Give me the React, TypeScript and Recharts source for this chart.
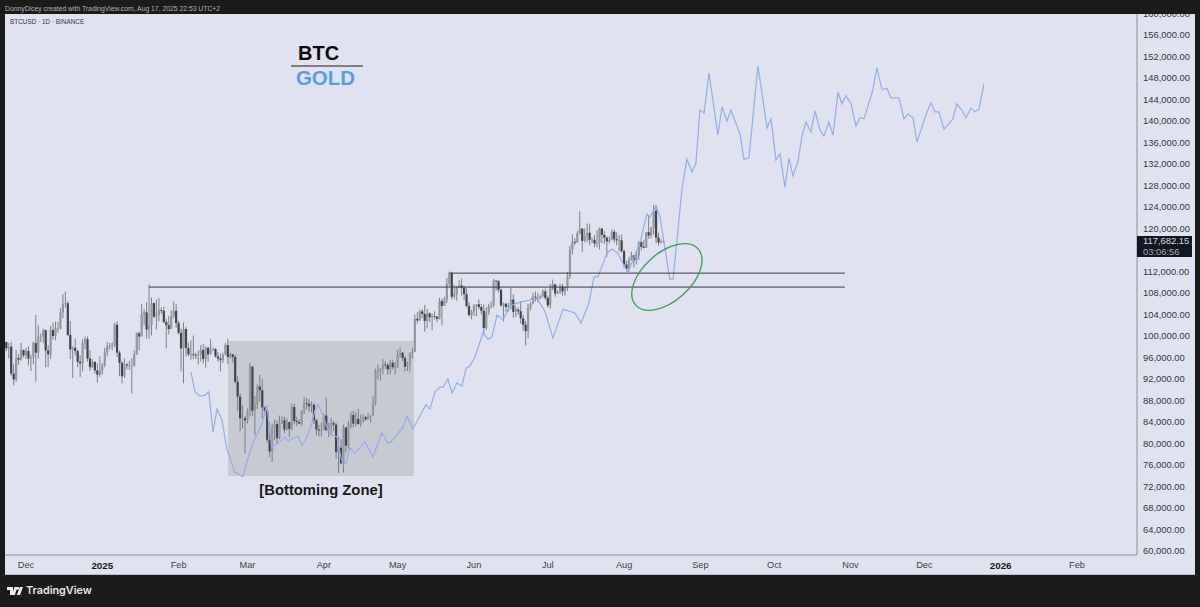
import { Bar, ComposedChart, Line, ReferenceArea, ReferenceDot, ReferenceLine, XAxis, YAxis } from 'recharts';

// daily BTCUSD candles, first candle is Nov 23 2024 (day 0)
const firstOpen = 98900;

const candleCloses = [
  97700, 98000, 93000, 91900, 95900, 95600, 97400, 96400,
  97200, 95800, 96000, 98700, 96900, 99900, 99900, 101100, 97300, 96600, 101100, 100000, 101400, 101400, 104400, 106000, 106100, 100200, 97500, 97800, 97200, 95200, 94900, 98700, 99400, 95800, 94200, 95200, 93600, 92800, 93600,
  94600, 97000, 98100, 98200, 98300, 102100, 96900, 95000, 92500, 94700, 94500, 94500, 94500, 96500, 100500, 99900, 104000, 104400, 101200, 102000, 106100, 103600, 103900, 104800, 104700, 102600, 102000, 101300, 103700, 104700, 102400,
  100600, 97700, 101300, 97800, 96600, 96600, 96500, 96400, 96500, 97400, 95700, 97800, 96600, 97500, 97600, 96200, 95800, 95500, 96600, 98300, 96100, 96600, 96100, 91500, 88700, 84700, 84700, 84300,
  86000, 94300, 86100, 87200, 90600, 89900, 86700, 86100, 80700, 78500, 82900, 83600, 81000, 83900, 84300, 82600, 84000, 82700, 86800, 84200, 84000, 83700, 86000, 87500, 87400, 86900, 87200, 84300, 82600, 82400, 82500,
  85200, 82500, 83100, 83800, 83500, 78400, 79200, 76300, 83000, 79600, 83400, 85300, 83700, 84600, 83600, 84000, 84900, 84500, 85100, 85200, 87500, 93400, 93700, 93900, 94700, 94600, 93800, 95000, 94200, 94200,
  96500, 96900, 95900, 94300, 94800, 96800, 97000, 103200, 102900, 104600, 104100, 102800, 104200, 103500, 103700, 103600, 103200, 106500, 105600, 106800, 109700, 111700, 107300, 107800, 109000, 109400, 109000, 107800, 105600, 103900, 104600,
  105700, 105900, 105400, 104700, 101500, 104400, 105600, 105700, 110300, 110200, 108600, 105700, 106000, 105400, 105600, 106800, 104500, 104900, 104600, 103300, 102100, 100900, 105300, 106000, 107300, 107000, 107000, 107400, 108300, 107100,
  105700, 108800, 109600, 107900, 108200, 109200, 108300, 109000, 111200, 116000, 117500, 117400, 119100, 120000, 117700, 118600, 119200, 117900, 117900, 117200, 117300, 120000, 118800, 118300, 117600, 117900, 119400, 118000, 117800, 117800, 115800,
  113300, 112500, 114200, 115000, 114100, 115000, 117500, 116600, 116400, 119300, 118700, 120100, 123300, 118300, 117400, 117500, 117700,
];

const candleHighs = [
  98800, 98700, 98900, 94700, 97400, 96600, 98700, 97500,
  97800, 98100, 96500, 99000, 103900, 102000, 100500, 101400, 101200, 98200, 101900, 102500, 102700, 102600, 105200, 107800, 108300, 106500, 102800, 98100, 99500, 97400, 96400, 99400, 99900, 99900, 97400, 95700, 95200, 94900, 96200,
  95000, 97800, 98900, 98700, 98800, 102500, 102700, 97300, 95300, 95800, 95000, 95400, 95900, 97300, 100700, 100800, 106000, 105000, 106300, 109600, 107200, 106300, 106800, 107100, 105300, 105400, 103200, 103700, 104800, 106400, 106000,
  102800, 101400, 102500, 101700, 98800, 99200, 100100, 96900, 97300, 98300, 98500, 98100, 98000, 99400, 97900, 97700, 97000, 96700, 96900, 98700, 99500, 96900, 96500, 96500, 92500, 89300, 87100, 85100,
  86500, 95000, 94400, 88900, 91000, 92800, 92000, 86900, 86400, 84000, 83600, 84400, 84300, 85200, 85000, 85000, 84700, 84000, 87400, 87400, 85000, 84500, 86200, 88700, 88500, 88300, 87800, 87500, 84600, 83500, 83900,
  85500, 88500, 83900, 84700, 84200, 83800, 81200, 80800, 83500, 82700, 84200, 85900, 86100, 85800, 86500, 85400, 85500, 85100, 85700, 85300, 88800, 93900, 94700, 94000, 95700, 95300, 95000, 95600, 95500, 95200,
  97400, 97900, 97000, 96300, 95200, 97000, 97700, 104000, 104400, 104900, 105000, 105800, 105000, 104400, 104200, 104600, 103700, 107100, 107000, 107300, 110800, 112000, 111900, 109500, 109300, 110400, 110700, 109300, 108900, 106300, 104900,
  105900, 105900, 106800, 106000, 105900, 105300, 106000, 106400, 110600, 110400, 110400, 108800, 106200, 106200, 106100, 108900, 107800, 105500, 105300, 106500, 103900, 102800, 106000, 106300, 108000, 108300, 108000, 107600, 108700, 108800,
  107500, 109700, 110500, 109700, 108500, 109700, 109700, 109200, 111900, 116800, 118900, 118200, 119500, 123200, 120000, 120000, 120900, 120900, 118300, 118800, 119700, 120200, 120000, 119500, 118500, 118500, 119800, 119800, 119300, 118800, 118900,
  116100, 114000, 114700, 115700, 115100, 115700, 117600, 117600, 117900, 119300, 122300, 120300, 124400, 124400, 119200, 118000, 118500,
];

const candleLows = [
  97200, 95800, 92600, 90800, 91500, 94600, 95400, 96000,
  95700, 94500, 93500, 94700, 91500, 95800, 98900, 98700, 94200, 94200, 95700, 99300, 99200, 100600, 101200, 103300, 105300, 100000, 95700, 92200, 96400, 94200, 92400, 93400, 97600, 95200, 93500, 94000, 93000, 91300, 92400,
  92800, 94200, 96200, 97500, 97300, 97900, 96100, 92500, 91200, 92200, 93800, 93700, 89300, 94300, 96500, 97300, 100000, 102000, 99500, 99500, 100100, 103300, 101200, 102700, 104100, 102400, 97700, 100300, 101300, 103300, 101500,
  100300, 93400, 91200, 96200, 96200, 95600, 95700, 95700, 94700, 95300, 94900, 94100, 95200, 96500, 97200, 96000, 95200, 93400, 95000, 96400, 94800, 95800, 95100, 91200, 86000, 82300, 82800, 78200,
  83700, 85000, 85100, 81500, 86400, 87800, 84700, 85200, 80100, 77400, 76600, 80600, 79900, 80800, 83600, 81900, 82400, 81100, 82400, 83600, 83200, 83600, 83300, 85500, 86300, 85900, 85800, 83600, 81600, 81300, 81300,
  82400, 82300, 81200, 81600, 82300, 77200, 74500, 76200, 74600, 78300, 79000, 82800, 83000, 83200, 83600, 83100, 83900, 84200, 84500, 83900, 85100, 87100, 91900, 91700, 92900, 93900, 92800, 92900, 93800, 92900,
  94100, 96000, 95300, 93400, 93500, 93400, 95800, 97300, 102300, 102800, 103300, 100800, 101400, 102600, 101100, 103100, 102600, 103100, 102000, 105600, 106100, 109300, 106800, 106900, 106600, 108900, 107500, 106700, 105300, 103600, 103100,
  103700, 103700, 105000, 104000, 100400, 101100, 103900, 105100, 105300, 108400, 108100, 105400, 102700, 104500, 104500, 104900, 103400, 103500, 103900, 102300, 101000, 98200, 99600, 104700, 105900, 106400, 106200, 106900, 107200, 106700,
  105300, 105100, 108500, 107300, 107800, 107800, 107500, 107500, 108400, 110600, 115200, 116900, 117300, 118900, 115700, 117400, 117500, 116900, 117300, 116500, 116500, 116100, 117300, 117100, 114700, 117200, 117800, 117400, 116900, 115700, 115500,
  112700, 112000, 111900, 114000, 112700, 113300, 114200, 115900, 116300, 116500, 118100, 118200, 118900, 117300, 116800, 117200, 117300,
];

// gold overlay (day, price-scale value)
const goldDays = [
  75.0, 76.7, 78.7, 80.7, 82.3, 84.0, 85.6, 87.6, 89.7, 92.9, 96.2, 98.2, 100.2, 103.1, 104.3, 105.9, 107.1, 107.9, 109.2, 111.2, 113.2, 114.4, 118.5, 120.1, 122.2, 124.2, 125.4, 126.6, 128.7, 130.3,
  132.3, 134.4, 135.6, 136.8, 138.0, 139.6, 141.7, 145.7, 149.0, 152.6, 155.1, 156.3, 161.2, 162.8, 165.2, 170.5, 172.1, 174.2, 176.2, 177.4, 179.4, 181.1, 183.1, 185.1, 186.8, 188.4, 190.4, 193.7, 195.7, 197.3,
  199.4, 201.8, 204.6, 208.7, 212.8, 214.0, 216.0, 218.9, 222.1, 226.2, 231.0, 233.5, 236.7, 238.8, 240.4, 244.0, 246.1, 248.5, 251.4, 252.6, 254.6, 257.4, 260.3, 261.5, 264.0, 265.6, 267.6, 269.6, 270.9, 272.1,
  273.3, 274.5, 276.5, 278.6, 280.2, 281.8, 283.5, 285.5, 289.1, 290.8, 292.8, 294.4, 298.1, 299.7, 301.7, 305.4, 309.1, 310.7, 312.7, 314.3, 316.4, 318.0, 319.6, 321.6, 323.3, 324.9, 326.9, 328.6, 330.6, 332.2,
  334.2, 335.9, 337.9, 339.5, 341.1, 343.2, 345.2, 346.8, 348.5, 352.1, 353.7, 355.8, 357.8, 359.4, 362.7, 364.7, 366.3, 368.4, 370.0, 374.1, 375.7, 377.3, 378.9, 381.0, 384.6, 386.2, 388.3, 389.9, 391.9, 393.6, 395.2, 397.2,
];

const goldValues = [
  93300, 89600, 88800, 89000, 89600, 82100, 86400, 84400, 78800, 74700, 73800, 77300, 80100, 82900, 84400, 87200, 82000, 79300, 79700, 80300, 81200, 80500, 81400, 79700, 81200, 83800, 86200, 87300, 85300, 82900,
  81600, 81200, 78200, 76000, 76400, 79200, 78200, 80300, 77500, 82000, 80100, 80300, 83100, 85100, 82700, 87200, 86400, 89600, 90500, 90500, 92000, 89400, 91300, 90700, 94000, 94400, 96100, 100600, 99400, 99800,
  103900, 103000, 105600, 106300, 106700, 107300, 106700, 104500, 99600, 105000, 104300, 102400, 106100, 111000, 111000, 115400, 116200, 115400, 112700, 111900, 114100, 117300, 122700, 122100, 124200, 122100, 116400, 110600, 110600, 116000,
  121600, 127200, 132900, 130500, 132200, 142000, 141500, 148900, 137400, 142600, 140000, 142000, 137600, 132900, 133100, 150200, 138700, 140400, 132700, 133900, 127700, 133100, 129800, 132400, 137200, 139800, 138000, 141900, 138300, 137200,
  139800, 137400, 145400, 143200, 144700, 143200, 139100, 140600, 140400, 145800, 149900, 145800, 146100, 144300, 144300, 140400, 141300, 140600, 136100, 141700, 143400, 141700, 141700, 138500, 140400, 143200, 142000, 140600, 142400, 141700, 142200, 146900,
];

const xTickDays = [8, 39, 70, 98, 129, 159, 190, 220, 251, 282, 312, 343, 373, 404, 435];
const xTickLabels = ['Dec', '2025', 'Feb', 'Mar', 'Apr', 'May', 'Jun', 'Jul', 'Aug', 'Sep', 'Oct', 'Nov', 'Dec', '2026', 'Feb'];

const yTicks = [
  160000, 156000, 152000, 148000, 144000, 140000, 136000, 132000, 128000, 124000, 120000, 112000, 108000,
  104000, 100000, 96000, 92000, 88000, 84000, 80000, 76000, 72000, 68000, 64000, 60000,
];

const levelLow = { fromDay: 58, toDay: 340.7, price: 109100 };
const levelHigh = { fromDay: 180, toDay: 340.7, price: 111700 };
const bottomingZone = { fromDay: 90.1, toDay: 165.6, top: 99070, bottom: 73950 };

const candles = candleCloses.map((close, i) => ({
  day: i,
  open: i === 0 ? firstOpen : candleCloses[i - 1],
  close,
  high: candleHighs[i],
  low: candleLows[i],
  range: [candleLows[i], candleHighs[i]],
}));

const gold = goldDays.map((day, i) => ({ day, gold: goldValues[i] }));

const FONT = '"Liberation Sans", Arial, sans-serif';
const BG = '#e0e3ef';
const DARK = '#1b1b1b';

const Candle = (props: any) => {
  const { x, y, width, height, payload } = props;
  const { open, close, high, low } = payload;
  const h = Math.abs(height);
  const cx = x + width / 2;
  const yOf = (v: number) => y + ((high - v) / (high - low)) * h;
  const top = yOf(Math.max(open, close));
  const bottom = yOf(Math.min(open, close));
  const up = close >= open;
  return (
    <g>
      <line x1={cx} x2={cx} y1={y} y2={y + h} stroke="#72757e" strokeWidth={0.9} />
      <rect x={cx - 1.1} y={top} width={2.2} height={Math.max(bottom - top, 0.8)} fill={up ? '#95979f' : '#42444b'} />
    </g>
  );
};

const XTick = (props: any) => {
  const { x, y, payload } = props;
  const label = xTickLabels[xTickDays.indexOf(payload.value)];
  const isYear = /^\d+$/.test(label);
  return (
    <text x={x} y={y + 3} textAnchor="middle" dominantBaseline="middle" fontFamily={FONT} fontSize={isYear ? 9.8 : 9.2} fontWeight={isYear ? 700 : 400} fill={isYear ? '#15171c' : '#3c3f47'}>
      {label}
    </text>
  );
};

const tiltedEllipse = (props: any) => {
  const { cx, cy } = props;
  return <ellipse cx={cx} cy={cy} rx={42} ry={24} transform={`rotate(-42 ${cx} ${cy})`} fill="none" stroke="#3f9e55" strokeWidth={1.3} />;
};

export default function App() {
  return (
    <div style={{ position: 'absolute', left: 0, top: 0, width: 1200, height: 607, background: DARK, overflow: 'hidden', fontFamily: FONT }}>
      <div style={{ position: 'absolute', left: 5, top: 3, fontSize: 6.8, lineHeight: '11px', color: '#b4b4b4', whiteSpace: 'nowrap' }}>
        DonnyDicey created with TradingView.com, Aug 17, 2025 22:53 UTC+2
      </div>

      <div style={{ position: 'absolute', left: 5, top: 14, width: 1190, height: 561, background: BG, overflow: 'hidden' }}>
        <ComposedChart width={1190} height={561} data={candles} margin={{ top: 0, right: 0, bottom: 0, left: 0 }}>
          <XAxis
            dataKey="day"
            type="number"
            domain={[-0.53, 459.4]}
            allowDataOverflow
            ticks={xTickDays}
            interval={0}
            height={20}
            tickLine={false}
            stroke="#8b8e9a"
            tick={<XTick />}
          />
          <YAxis
            orientation="right"
            type="number"
            width={58}
            domain={[59256, 159907]}
            allowDataOverflow
            ticks={yTicks}
            interval={0}
            tickLine={false}
            tickSize={0}
            stroke="#8b8e9a"
            tickMargin={6}
            tick={{ fontFamily: FONT, fontSize: 9.4, fill: '#33363d' }}
            tickFormatter={(v: number) => v.toLocaleString('en-US', { minimumFractionDigits: 2, maximumFractionDigits: 2 })}
          />
          <ReferenceArea
            x1={bottomingZone.fromDay}
            x2={bottomingZone.toDay}
            y1={bottomingZone.bottom}
            y2={bottomingZone.top}
            fill="#c8cad3"
            fillOpacity={1}
            stroke="none"
            label={{ value: '[Bottoming Zone]', position: 'bottom', offset: 8, fontFamily: FONT, fontSize: 14.8, fontWeight: 700, fill: '#17181c' }}
          />
          <Bar dataKey="range" barSize={2} shape={<Candle />} isAnimationActive={false} />
          <Line data={gold} dataKey="gold" stroke="#93aee8" strokeWidth={1.2} dot={false} activeDot={false} isAnimationActive={false} />
          <ReferenceLine segment={[{ x: levelLow.fromDay, y: levelLow.price }, { x: levelLow.toDay, y: levelLow.price }]} stroke="#393b42" strokeWidth={1} />
          <ReferenceLine segment={[{ x: levelHigh.fromDay, y: levelHigh.price }, { x: levelHigh.toDay, y: levelHigh.price }]} stroke="#393b42" strokeWidth={1} />
          <ReferenceLine segment={[{ x: 115.7, y: 150230 }, { x: 144.9, y: 150230 }]} stroke="#1a1a1a" strokeWidth={1} />
          <ReferenceDot x={268.4} y={110980} shape={tiltedEllipse} />
        </ComposedChart>

        <div style={{ position: 'absolute', left: 5, top: 3, fontSize: 6.4, lineHeight: '10px', color: '#33363d', whiteSpace: 'nowrap' }}>
          BTCUSD · 1D · BINANCE
        </div>
        <div style={{ position: 'absolute', left: 293, top: 27, fontSize: 20, lineHeight: '25px', fontWeight: 700, color: '#0b0b0b' }}>BTC</div>
        <div style={{ position: 'absolute', left: 291, top: 52, fontSize: 20.4, lineHeight: '25px', fontWeight: 700, color: '#5a9bee' }}>GOLD</div>
        <div style={{ position: 'absolute', left: 1132, top: 222, width: 55, height: 21, background: '#131722', color: '#d8dae0', fontSize: 9.4, lineHeight: '10.5px', textAlign: 'left', paddingLeft: 6, boxSizing: 'border-box' }}>
          <div>117,682.15</div>
          <div style={{ color: '#a9acb4' }}>03:06:56</div>
        </div>
        <div style={{ position: 'absolute', left: 0, top: 560, width: 1190, height: 1, background: '#b9bcc8' }} />
      </div>

      <svg style={{ position: 'absolute', left: 7, top: 587 }} width={16} height={8} viewBox="0 0 16 8">
        <path d="M0 0H6V8H3V3H0Z M7.5 0H10.5L7.8 8H4.9Z M11.5 2.6A1.5 1.5 0 1 1 11.5 0 A1.5 1.5 0 0 1 11.5 2.6Z M13 0H16L13 8H9.8Z" fill="#ececec" />
      </svg>
      <div style={{ position: 'absolute', left: 26, top: 583, fontFamily: 'Inter, sans-serif', fontSize: 10.8, lineHeight: '16px', fontWeight: 600, color: '#e8e8e8', whiteSpace: 'nowrap' }}>
        TradingView
      </div>
    </div>
  );
}
